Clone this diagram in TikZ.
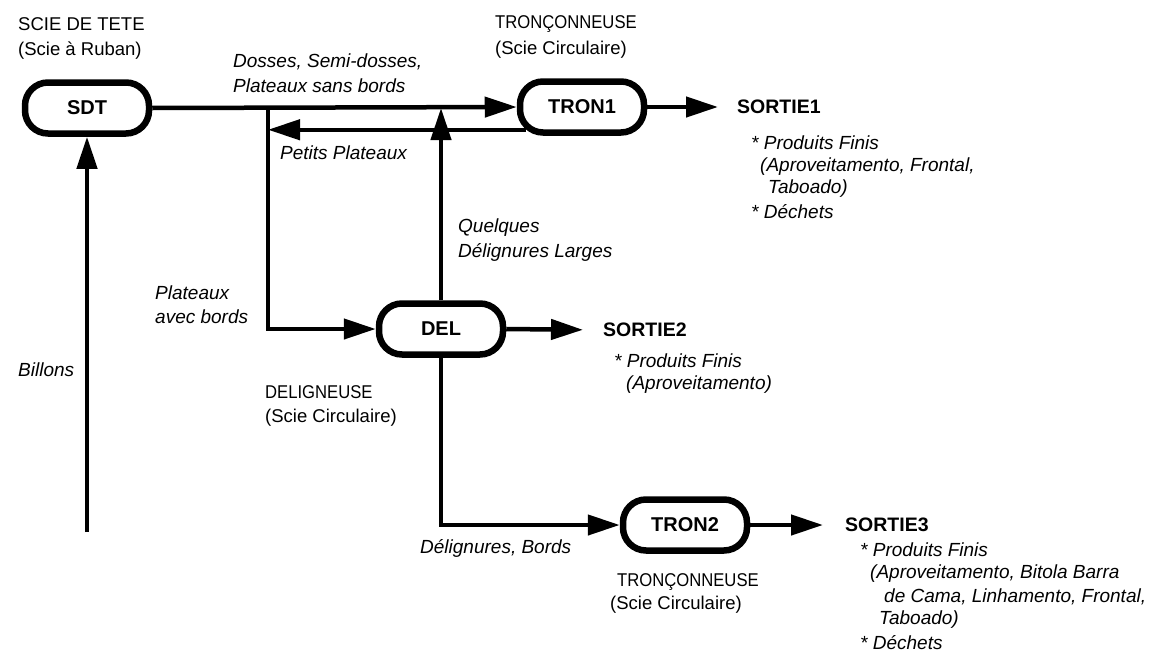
\documentclass[tikz,border=0pt]{standalone}
\usepackage{fontspec}
\usepackage{graphicx}
\setmainfont{Liberation Sans}
\usetikzlibrary{arrows.meta}
\newcommand{\narrowtxt}[1]{\scalebox{0.9}[1]{#1}}
\begin{document}
\begin{tikzpicture}[x=1pt,y=-1pt,
  proc/.style={draw, line width=6.5pt, rounded corners=23pt, minimum width=124pt, minimum height=51pt, font=\fontsize{20}{22}\selectfont\bfseries, inner sep=0pt},
  flow/.style={line width=4.5pt, -{Triangle[length=32pt,width=20pt]}},
  lab/.style={font=\fontsize{19}{22}\selectfont\itshape, anchor=west, inner sep=0pt},
  mach/.style={font=\fontsize{18.5}{22}\selectfont, anchor=west, inner sep=0pt},
  outl/.style={font=\fontsize{19.5}{22}\selectfont\bfseries, anchor=west, inner sep=0pt},
]
\useasboundingbox (0,0) rectangle (1168,664);
% process boxes
\node[proc] (SDT) at (87,108) {SDT};
\node[proc] (TRON1) at (582,107) {TRON1};
\node[proc] (DEL) at (441,329) {DEL};
\node[proc] (TRON2) at (685,525) {TRON2};
% machine names
\node[mach] (m1) at (18,24) {SCIE DE TETE};
\node[mach] (m2) at (18,51) {(Scie à Ruban)};
\node[mach] (m3) at (495,24) {\narrowtxt{TRONÇONNEUSE}};
\node[mach] (m4) at (495,50) {(Scie Circulaire)};
\node[mach] (m5) at (265,392) {\narrowtxt{DELIGNEUSE}};
\node[mach] (m6) at (265,418) {(Scie Circulaire)};
\node[mach] (m7) at (617,582) {\narrowtxt{TRONÇONNEUSE}};
\node[mach] (m8) at (610,605) {(Scie Circulaire)};
% outputs
\node[outl] (S1) at (737,107) {SORTIE1};
\node[lab] (s1a) at (751,143) {* Produits Finis};
\node[lab] (s1b) at (760,167) {(Aproveitamento, Frontal,};
\node[lab] (s1c) at (768,189) {Taboado)};
\node[lab] (s1d) at (751,212) {* Déchets};
\node[outl] (S2) at (603,330) {SORTIE2};
\node[lab] (s2a) at (614,361) {* Produits Finis};
\node[lab] (s2b) at (626,385) {(Aproveitamento)};
\node[outl] (S3) at (845,525) {SORTIE3};
\node[lab] (s3a) at (860,550) {* Produits Finis};
\node[lab] (s3b) at (870,574) {(Aproveitamento, Bitola Barra};
\node[lab] (s3c) at (884,597) {de Cama, Linhamento, Frontal,};
\node[lab] (s3d) at (879,620) {Taboado)};
\node[lab] (s3e) at (860,643) {* Déchets};
% flow labels
\node[lab] (l1) at (233,62) {Dosses, Semi-dosses,};
\node[lab] (l2) at (233,86) {Plateaux sans bords};
\node[lab] (l3) at (280,153) {Petits Plateaux};
\node[lab] (l4) at (458,228) {Quelques};
\node[lab] (l5) at (458,252) {Délignures Larges};
\node[lab] (l6) at (155,293) {Plateaux};
\node[lab] (l7) at (155,317) {avec bords};
\node[lab] (l8) at (18,370) {Billons};
\node[lab] (l9) at (420,548) {Délignures, Bords};
% connectors
\coordinate (j1) at (268,108);
\coordinate (r0) at ([shift={(9,-6)}]TRON1.south west);
\coordinate (b0) at (SDT.south |- 0,532);
\draw[flow] (SDT.east) -- (TRON1.west);
\draw[flow] (j1) |- (DEL.west);
\draw[flow] (r0) -- (r0 -| j1);
\draw[flow] (DEL.north) -- (DEL.north |- SDT.east);
\draw[flow] (DEL.south) |- (TRON2.west);
\draw[flow] (b0) -- (SDT.south);
\draw[flow, shorten >=19pt] (TRON1.east) -- (S1.west);
\draw[flow, shorten >=20pt] (DEL.east) -- (S2.west);
\draw[flow, shorten >=22pt] (TRON2.east) -- (S3.west);
\end{tikzpicture}
\end{document}
